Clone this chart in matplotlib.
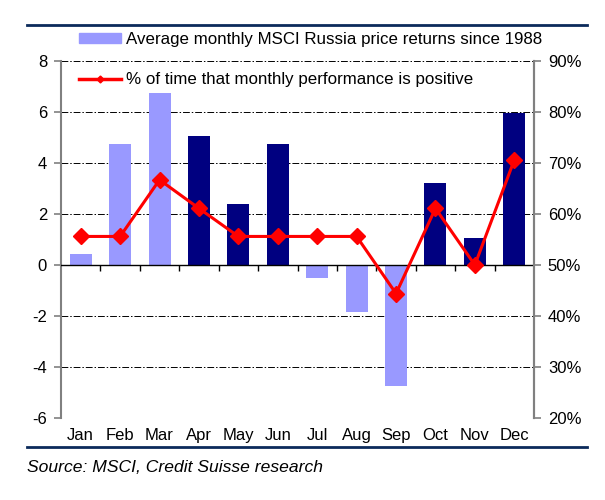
import matplotlib
matplotlib.use("Agg")
import matplotlib.pyplot as plt
from matplotlib.lines import Line2D
import numpy as np

plt.rcParams['font.family'] = ['Liberation Sans', 'DejaVu Sans']
plt.rcParams['axes.unicode_minus'] = False

months = ['Jan', 'Feb', 'Mar', 'Apr', 'May', 'Jun', 'Jul', 'Aug', 'Sep', 'Oct', 'Nov', 'Dec']
avg_returns = [0.45, 4.75, 6.75, 5.05, 2.4, 4.75, -0.5, -1.85, -4.75, 3.2, 1.05, 5.95]
pct_positive = [55.6, 55.6, 66.7, 61.1, 55.6, 55.6, 55.6, 55.6, 44.4, 61.1, 50.0, 70.6]
dark_months = ['Apr', 'May', 'Jun', 'Oct', 'Nov', 'Dec']

light = '#9999FF'
dark = '#000080'
bar_colors = [dark if m in dark_months else light for m in months]

fig = plt.figure(figsize=(6.05, 5.0), dpi=100)
ax = fig.add_axes([61/605, 1-418/500, (534-61)/605, (418-61)/500])
x = np.arange(len(months))

ax.bar(x, avg_returns, width=0.56, color=bar_colors, zorder=3)
ax.set_xlim(-0.5, 11.5)
ax.set_ylim(-6, 8)
ax.set_yticks(np.arange(-6, 9, 2))
ax.set_xticks(x)
ax.set_xticklabels(months)
ax.tick_params(axis='x', length=0, pad=7, labelsize=12)
ax.tick_params(axis='y', direction='out', length=5, color='#808080', width=1.2, labelsize=12, pad=5)
ax.grid(axis='y', color='black', linestyle=(0, (7, 2, 1.5, 2)), linewidth=0.7, zorder=0)
for s in ['top', 'bottom']:
    ax.spines[s].set_visible(False)
for s in ['left', 'right']:
    ax.spines[s].set_color('#808080')
    ax.spines[s].set_linewidth(1.5)

# zero axis line with category boundary ticks
ax.axhline(0, color='black', linewidth=1.0, zorder=4)
ax.vlines(np.arange(0.5, 11.5, 1.0), -0.22, 0, color='black', linewidth=1.0, zorder=4)

ax2 = ax.twinx()
ax2.set_ylim(20, 90)
ax2.set_yticks(np.arange(20, 91, 10))
ax2.set_yticklabels([f'{v}%' for v in range(20, 91, 10)])
ax2.tick_params(axis='y', direction='out', length=5, color='#808080', width=1.2, labelsize=12, pad=5)
for s in ['top', 'bottom', 'left']:
    ax2.spines[s].set_visible(False)
ax2.spines['right'].set_color('#808080')
ax2.spines['right'].set_linewidth(1.5)
ax2.plot(x, pct_positive, color='red', linewidth=2.2, marker='D', markersize=8,
         markerfacecolor='red', markeredgecolor='red', zorder=5)

handles = [plt.Rectangle((0, 0), 1, 1, color=light),
           Line2D([0], [0], color='red', linewidth=2.5, marker='D', markersize=3.5)]
labels = ['Average monthly MSCI Russia price returns since 1988',
          '% of time that monthly performance is positive']
fig.legend(handles, labels, loc='upper left', bbox_to_anchor=(79/605, 1-32/500),
           frameon=False, fontsize=12.2, labelspacing=1.5, handlelength=2.5,
           handleheight=0.6, handletextpad=0.25, borderaxespad=0, borderpad=0)

# header and footer rules
rule_color = '#0b2a5b'
fig.add_artist(Line2D([27/605, 587/605], [1-25/500, 1-25/500], color=rule_color, linewidth=2, transform=fig.transFigure))
fig.add_artist(Line2D([27/605, 587/605], [1-447/500, 1-447/500], color=rule_color, linewidth=2, transform=fig.transFigure))
fig.text(27/605, 1-467/500, 'Source: MSCI, Credit Suisse research', fontsize=12.6, style='italic', va='center', ha='left')

fig.savefig('out.png', dpi=100)
